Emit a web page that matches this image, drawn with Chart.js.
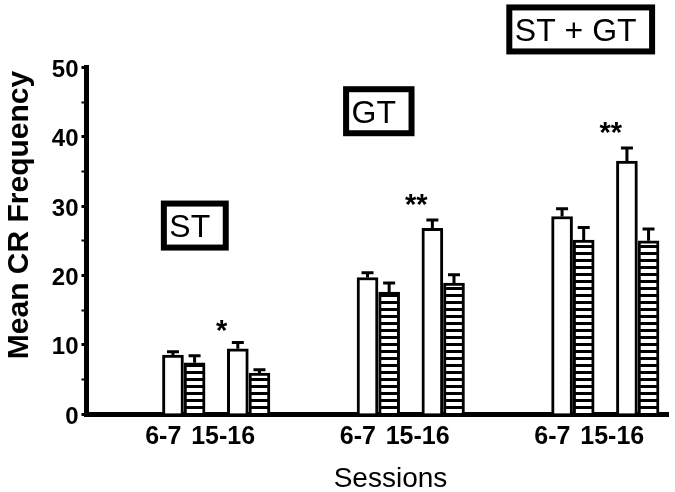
<!DOCTYPE html>
<html><head><meta charset="utf-8">
<script src="https://cdn.jsdelivr.net/npm/chart.js@4.4.1/dist/chart.umd.min.js"></script>
<style>html,body{margin:0;padding:0;background:#fff}#wrap{width:675px;height:492px;position:relative}</style>
</head><body><div id="wrap"><canvas id="c" width="675" height="492"></canvas></div>
<script>
// ---- data ----
const groups = ['ST', 'GT', 'ST + GT'];
const sessions = ['6-7', '15-16'];
// order: ST 6-7, ST 15-16, GT 6-7, GT 15-16, ST+GT 6-7, ST+GT 15-16
const openMeans    = [8.5, 9.4, 19.7, 26.8, 28.5, 36.5];
const openSEM      = [0.5, 0.9, 0.7, 1.2, 1.1, 1.9];
const stripedMeans = [7.4, 5.9, 17.6, 18.9, 25.1, 25.0];
const stripedSEM   = [1.0, 0.5, 1.3, 1.2, 1.8, 1.7];
const sigMarks = ['*', '**', '**'];
const sigLevel = [10.7, 28.8, 39.3];
const yTickStep = 10;

// ---- layout (slot units: 1 slot = one bar) ----
const FONT = "'Liberation Sans', Arial, Helvetica, sans-serif";
function slot(i, d) { const g = Math.floor(i / 2), s = i % 2; return 9 * g + 3 * s + d; }
const labelSlots = [];
groups.forEach((g, gi) => { labelSlots.push(9 * gi - 0.45, 9 * gi + 2.32); });
const boxAnchors = [ {x: -0.56, y: 30.8}, {x: 7.87, y: 47.3}, {x: 15.42, y: 59.1} ];

const stripe = (() => {
  const c = document.createElement('canvas'); c.width = 8; c.height = 7;
  const x = c.getContext('2d');
  x.fillStyle = '#fff'; x.fillRect(0, 0, 8, 7);
  x.fillStyle = '#000'; x.fillRect(0, 0, 8, 3);
  return x.createPattern(c, 'repeat');
})();

const overlay = {
  id: 'overlay',
  afterDatasetsDraw(chart) {
    const {ctx, scales: {x, y}} = chart;
    ctx.save();
    ctx.strokeStyle = '#000'; ctx.lineWidth = 3; ctx.lineCap = 'butt';
    chart.data.datasets.forEach((ds, di) => {
      const meta = chart.getDatasetMeta(di);
      meta.data.forEach((bar, i) => {
        const top = y.getPixelForValue(ds.data[i].y + ds.errors[i]);
        ctx.beginPath();
        ctx.moveTo(bar.x, bar.y); ctx.lineTo(bar.x, top);
        ctx.moveTo(bar.x - 6, top); ctx.lineTo(bar.x + 6, top);
        ctx.stroke();
      });
    });
    ctx.restore();
  },
  afterDraw(chart) {
    const {ctx, scales: {x, y}} = chart;
    ctx.save();
    ctx.fillStyle = '#000';
    // significance marks
    ctx.font = 'bold 29px ' + FONT;
    ctx.textAlign = 'center'; ctx.textBaseline = 'alphabetic';
    sigMarks.forEach((m, g) => {
      ctx.fillText(m, x.getPixelForValue(9 * g + 2.25), y.getPixelForValue(sigLevel[g]));
    });
    // group boxes
    ctx.font = '32px ' + FONT;
    ctx.textAlign = 'left';
    groups.forEach((g, gi) => {
      const a = boxAnchors[gi];
      const left = x.getPixelForValue(a.x), top = y.getPixelForValue(a.y);
      const w = ctx.measureText(g).width + 27, h = 50;
      ctx.lineWidth = 6; ctx.strokeStyle = '#000';
      ctx.strokeRect(left + 3, top + 3, w - 6, h - 6);
      ctx.fillText(g, left + 8.5, top + h / 2 + 11.4);
    });
    // axis titles
    ctx.font = '28px ' + FONT;
    ctx.textAlign = 'center';
    ctx.fillText('Sessions', 390.5, 486.5);
    ctx.save();
    ctx.translate(28, 215);
    ctx.rotate(-Math.PI / 2);
    ctx.font = 'bold 30px ' + FONT;
    ctx.fillText('Mean CR Frequency', 0, 0);
    ctx.restore();
    ctx.restore();
  }
};

new Chart(document.getElementById('c'), {
  type: 'bar',
  data: {
    datasets: [
      { label: 'open', data: openMeans.map((v, i) => ({x: slot(i, 0), y: v})), errors: openSEM,
        backgroundColor: '#fff', borderColor: '#000', borderWidth: 3, barThickness: 21, grouped: false },
      { label: 'striped', data: stripedMeans.map((v, i) => ({x: slot(i, 1), y: v})), errors: stripedSEM,
        backgroundColor: stripe, borderColor: '#000', borderWidth: 3, barThickness: 21, grouped: false }
    ]
  },
  options: {
    responsive: false, animation: false, events: [],
    layout: { padding: { top: 67.5, right: 7, left: 0, bottom: 0 } },
    plugins: { legend: { display: false }, tooltip: { enabled: false } },
    scales: {
      x: {
        type: 'linear', min: -4, max: 22.9, offset: false,
        afterBuildTicks: s => { s.ticks = labelSlots.map(v => ({value: v})); },
        ticks: { callback: (v, i) => sessions[i % 2], autoSkip: false, maxRotation: 0,
                 font: { family: FONT, size: 25, weight: 'bold' }, color: '#000', padding: 8 },
        grid: { display: false, drawTicks: false },
        border: { display: true, color: '#000', width: 5 },
        afterFit: s => { s.height = 78; }
      },
      y: {
        min: 0, max: 50,
        ticks: { stepSize: yTickStep / 2, callback: v => (v % yTickStep === 0 ? String(v) : ''),
                 autoSkip: false, font: { family: FONT, size: 24, weight: 'bold' }, color: '#000',
                 padding: 3, labelOffset: 3 },
        grid: { display: true, drawOnChartArea: false, drawTicks: true, tickLength: 5, tickColor: '#000',
                tickWidth: c => (c.tick && c.tick.value % yTickStep === 0 ? 3 : 2) },
        border: { display: true, color: '#000', width: 5 },
        afterFit: s => { s.width = 86.5; }
      }
    }
  },
  plugins: [overlay]
});
</script></body></html>
